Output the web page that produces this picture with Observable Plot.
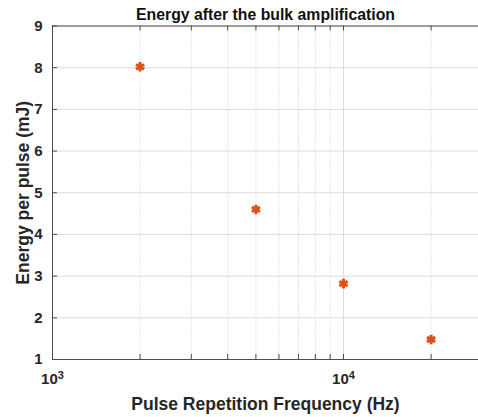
<!DOCTYPE html>
<html>
<head>
<meta charset="utf-8">
<script src="https://cdn.jsdelivr.net/npm/d3@7"></script>
<script src="https://cdn.jsdelivr.net/npm/@observablehq/plot@0.6"></script>
<style>
  html, body { margin: 0; padding: 0; background: #fff; }
  svg { font-family: "Liberation Sans", Arial, sans-serif; }
</style>
</head>
<body>
<div id="chart"></div>
<script>
const freq = [2000, 5000, 10000, 20000];
const energy = [8.02, 4.6, 2.82, 1.48];
const yTicks = [1, 2, 3, 4, 5, 6, 7, 8, 9];
const xMajor = [1000, 10000];
const xMajorBase = ["10", "10"];
const xMajorExp = ["3", "4"];
const xMinor = [2000, 3000, 4000, 5000, 6000, 7000, 8000, 9000, 20000];
const xDomain = [1000, 29100];
const yDomain = [1, 9];
const title = "Energy after the bulk amplification";
const xLabel = "Pulse Repetition Frequency (Hz)";
const yLabel = "Energy per pulse (mJ)";

const W = 478, H = 417;
const mL = 52, mR = 0, mT = 25.5, mB = 58;
const plotW = W - mL - mR, plotH = H - mT - mB;
const points = freq.map((f, i) => ({f, e: energy[i]}));
const axisColor = "#4d4d4d";
const textColor = "#262626";

const chart = Plot.plot({
  width: W,
  height: H,
  marginLeft: mL,
  marginRight: mR,
  marginTop: mT,
  marginBottom: mB,
  x: {type: "log", domain: xDomain},
  y: {domain: yDomain},
  style: {fontFamily: "'Liberation Sans', Arial, sans-serif", background: "#fff"},
  marks: [
    Plot.ruleY(yTicks, {stroke: "#dcdcdc", strokeWidth: 1}),
    Plot.ruleX(xMinor, {stroke: "#cccccc", strokeWidth: 1, strokeDasharray: "1,2"}),
    Plot.ruleX(xMajor, {stroke: "#dcdcdc", strokeWidth: 1}),
    // inward ticks
    Plot.tickY(yTicks, {y: d => d, stroke: axisColor, insetRight: plotW - 5}),
    Plot.tickX(xMajor.concat(xMinor), {x: d => d, stroke: axisColor, insetTop: plotH - 5}),
    Plot.tickX(xMajor.concat(xMinor), {x: d => d, stroke: axisColor, insetBottom: plotH - 5}),
    // box
    Plot.ruleX([xDomain[0]], {stroke: axisColor, strokeWidth: 1}),
    Plot.ruleY([yDomain[0], yDomain[1]], {stroke: axisColor, strokeWidth: 1}),
    // tick labels
    Plot.axisY(yTicks, {tickSize: 0, tickPadding: 10, fontSize: 15, fontWeight: "bold", fill: textColor, label: null}),
    Plot.axisX(xMajor, {tickSize: 0, tickPadding: 14, fontSize: 15, fontWeight: "bold", fill: textColor, label: null,
      tickFormat: d => xMajorBase[xMajor.indexOf(d)] + "|" + xMajorExp[xMajor.indexOf(d)]}),
    // data
    Plot.dot(points, {x: "f", y: "e", symbol: "asterisk", r: 4.5, stroke: "#D95319", strokeWidth: 3}),
    // titles
    Plot.text([title], {frameAnchor: "top", dy: -11.5, fontSize: 15.8, fontWeight: "bold", fill: "#111", lineAnchor: "middle"}),
    Plot.text([xLabel], {frameAnchor: "bottom", dy: 45, fontSize: 17.5, fontWeight: "bold", fill: textColor, lineAnchor: "middle"}),
    Plot.text([yLabel], {frameAnchor: "left", dx: -29, rotate: -90, textAnchor: "middle", fontSize: 17.5, fontWeight: "bold", fill: textColor, lineAnchor: "middle"})
  ]
});
// render superscript exponents for the log-axis labels
d3.select(chart).selectAll("text").each(function () {
  const t = this.textContent;
  if (t.includes("|")) {
    const [b, e] = t.split("|");
    const sel = d3.select(this);
    sel.text(null);
    sel.append("tspan").text(b);
    sel.append("tspan").attr("dy", "-0.45em").attr("font-size", "11").text(e);
  }
});
document.getElementById("chart").appendChild(chart);
</script>
</body>
</html>
